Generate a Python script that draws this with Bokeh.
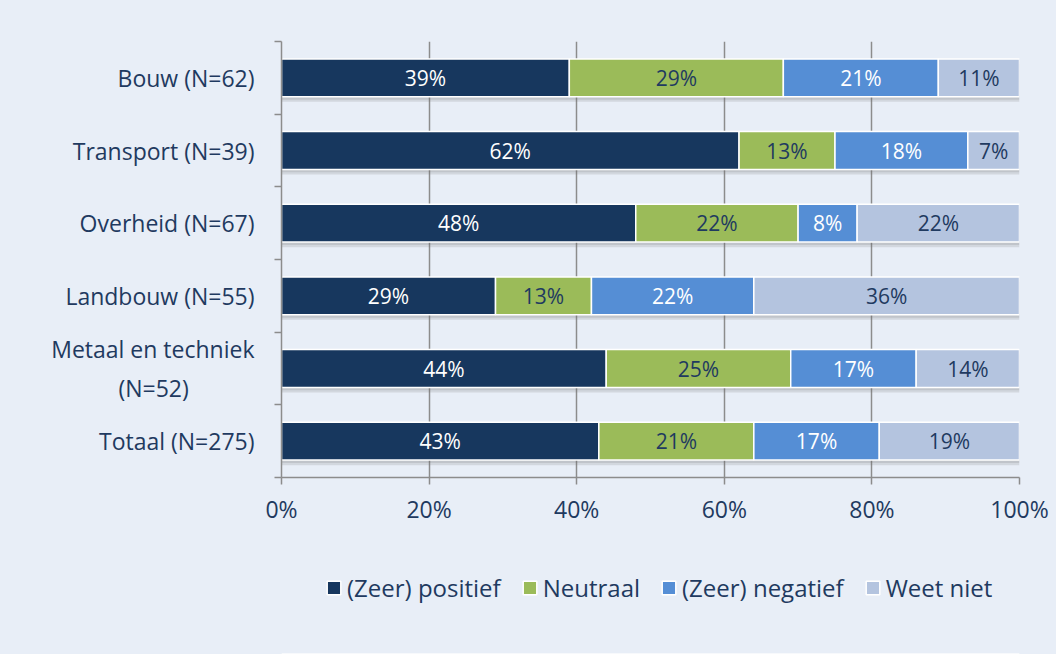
from bokeh.plotting import figure
from bokeh.layouts import column
from bokeh.models import (ColumnDataSource, FixedTicker, Legend, LegendItem,
                          Range1d)
from bokeh.transform import dodge
from bokeh.core.properties import value
from bokeh.embed import file_html
from bokeh.resources import INLINE

# ---- data ----
categories = ["Bouw (N=62)", "Transport (N=39)", "Overheid (N=67)",
              "Landbouw (N=55)", "Metaal en techniek\n(N=52)" + "\u00a0" * 11,
              "Totaal (N=275)"]
series_names = ["(Zeer) positief", "Neutraal", "(Zeer) negatief", "Weet niet"]
positief = [39, 62, 48, 29, 44, 43]
neutraal = [29, 13, 22, 13, 25, 21]
negatief = [21, 18, 8, 22, 17, 17]
weet_niet = [11, 7, 22, 36, 14, 19]
x_ticks = [0, 20, 40, 60, 80, 100]
x_tick_labels = ["0%", "20%", "40%", "60%", "80%", "100%"]

colors = ["#17375E", "#9BBB59", "#558ED5", "#B4C4DF"]
label_colors = ["white", "#1F3A60", "white", "#1F3A60"]
BG = "#E8EEF7"
TXT = "#1F3A60"
GRID = "#8C8C8C"
FONT = "Open Sans"

n = len(categories)
ypos = [n - i - 0.5 for i in range(n)]

p = figure(frame_width=738, frame_height=436, x_range=Range1d(0, 100),
           y_range=Range1d(0, n),
           output_backend="svg", toolbar_location=None,
           min_border_left=281, min_border_right=37, min_border_top=41,
           min_border_bottom=60)
p.background_fill_color = BG
p.border_fill_color = BG
p.outline_line_color = None

# shadows
shadow_src = ColumnDataSource(dict(y=ypos, right=[a + b + c + d for a, b, c, d in
                                                   zip(positief, neutraal, negatief, weet_niet)]))
p.hbar(y=dodge("y", -0.07, range=p.y_range), left=0, right="right", height=0.52,
       source=shadow_src, fill_color="#6F6F6F", fill_alpha=0.18, line_color=None)
p.hbar(y=dodge("y", -0.04, range=p.y_range), left=0, right="right", height=0.52,
       source=shadow_src, fill_color="#6F6F6F", fill_alpha=0.18, line_color=None)

series = [positief, neutraal, negatief, weet_niet]
lefts = [0] * n
for k, vals in enumerate(series):
    rights = [l + v for l, v in zip(lefts, vals)]
    src = ColumnDataSource(dict(y=ypos, left=lefts, right=rights,
                                mid=[(l + r) / 2 for l, r in zip(lefts, rights)],
                                lab=[f"{v}%" for v in vals]))
    p.hbar(y="y", left="left", right="right", height=0.52, source=src,
           fill_color=colors[k], line_color="white", line_width=1.5)
    p.text(x="mid", y="y", text="lab", source=src, text_align="center",
           text_baseline="middle", text_color=label_colors[k],
           text_font=value(FONT), text_font_size="21px")
    lefts = rights

# x axis
p.xaxis.ticker = FixedTicker(ticks=x_ticks)
p.xaxis.major_label_overrides = {t: l for t, l in zip(x_ticks, x_tick_labels)}
p.xaxis.axis_line_color = GRID
p.xaxis.axis_line_width = 1.5
p.xaxis.major_tick_line_color = GRID
p.xaxis.major_tick_line_width = 1.5
p.xaxis.major_tick_out = 7
p.xaxis.major_tick_in = 0
p.xaxis.minor_tick_line_color = None
p.xaxis.major_label_standoff = 8
p.xaxis.major_label_text_font = FONT
p.xaxis.major_label_text_font_size = "23px"
p.xaxis.major_label_text_color = TXT

p.xgrid.ticker = FixedTicker(ticks=x_ticks)
p.xgrid.grid_line_color = GRID
p.xgrid.grid_line_width = 1.5
p.ygrid.grid_line_color = None

# y axis: labels at centers, tick marks at boundaries
p.yaxis.ticker = FixedTicker(ticks=ypos, minor_ticks=list(range(n + 1)))
p.yaxis.major_label_overrides = {y: c for y, c in zip(ypos, categories)}
p.yaxis.axis_line_color = GRID
p.yaxis.axis_line_width = 1.5
p.yaxis.major_tick_line_color = None
p.yaxis.major_tick_out = 0
p.yaxis.major_tick_in = 0
p.yaxis.minor_tick_line_color = GRID
p.yaxis.minor_tick_line_width = 1.5
p.yaxis.minor_tick_out = 7
p.yaxis.minor_tick_in = 0
p.yaxis.major_label_standoff = 20
p.yaxis.major_label_text_font = FONT
p.yaxis.major_label_text_font_size = "23px"
p.yaxis.major_label_text_color = TXT

# legend strip (separate figure, frame aligned with the chart above)
lg = figure(frame_width=738, frame_height=117, x_range=Range1d(0, 1),
            y_range=Range1d(0, 1),
            output_backend="svg", toolbar_location=None,
            min_border_left=281, min_border_right=37, min_border_top=0,
            min_border_bottom=0)
lg.background_fill_color = BG
lg.border_fill_color = BG
lg.outline_line_color = None
lg.axis.visible = False
lg.grid.grid_line_color = None
items = []
for k, name in enumerate(series_names):
    r = lg.hbar(y=[-5], left=[0], right=[1], height=0.5, fill_color=colors[k],
                line_color="white", line_width=1.5)
    items.append(LegendItem(label=name, renderers=[r]))

legend = Legend(items=items, orientation="horizontal", location=(44, 50),
                label_text_font=FONT, label_text_font_size="24px",
                label_text_color=TXT, glyph_width=17, glyph_height=17,
                label_standoff=5, spacing=20, background_fill_alpha=0,
                border_line_color=None, margin=0, padding=0)
lg.add_layout(legend, "center")

layout = column(p, lg, spacing=0, styles={"background-color": BG})
open("out.html", "w").write(file_html(layout, INLINE))
